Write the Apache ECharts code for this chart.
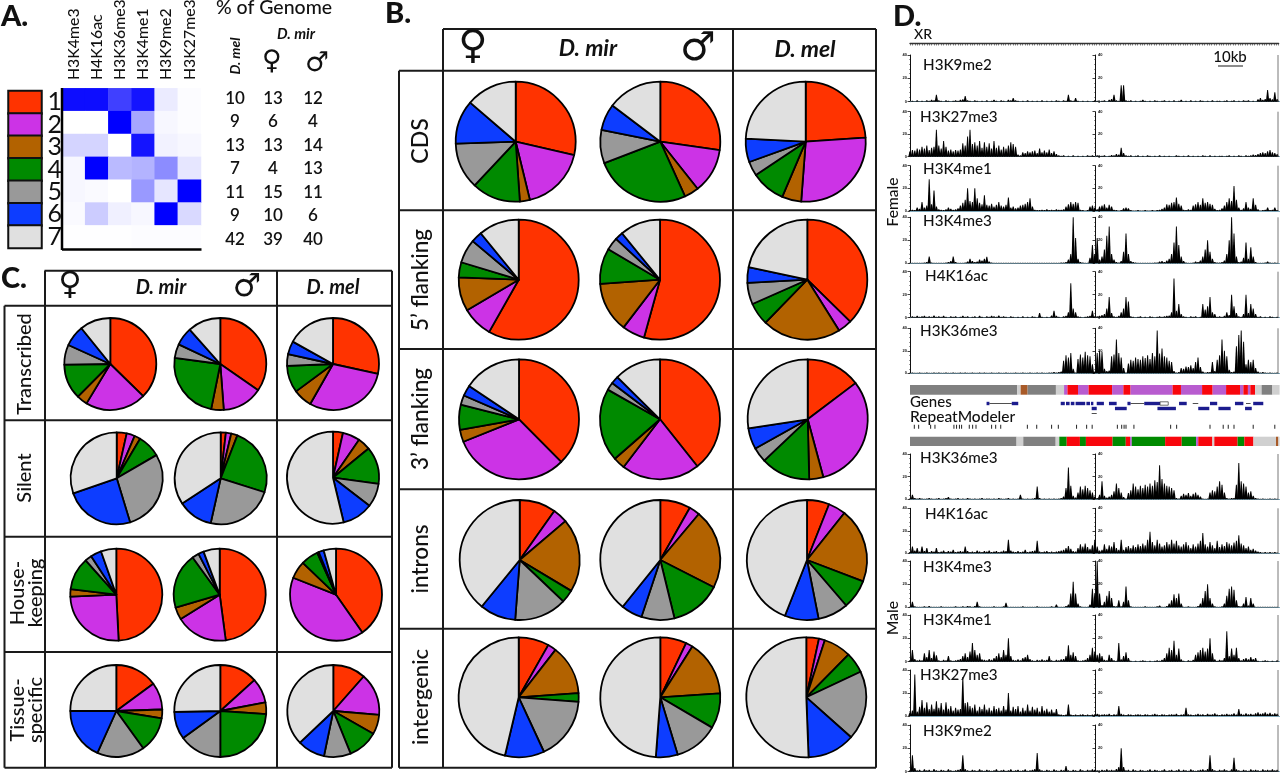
<!DOCTYPE html>
<html><head><meta charset="utf-8">
<style>html,body{margin:0;padding:0;background:#fff}#c{width:1280px;height:777px}</style>
<script src="https://cdn.jsdelivr.net/npm/echarts@6/dist/echarts.min.js"></script>
</head><body><div id="c"></div>
<script>
// ---------- Panel A ----------
const marks=['H3K4me3','H4K16ac','H3K36me3','H3K4me1','H3K9me2','H3K27me3'];
const stateLabels=['1','2','3','4','5','6','7'];
const stateColors=['#ff3300','#cc33e6','#b26200','#008a00','#999999','#0d3dff','#e0e0e0'];
const stripColors=['#f8060c','#b85ccf','#a85a28','#008a00','#808080','#0d3dff','#d0d0d0'];
const emis1=[95,95,75,92,8,1];
const emis2=[0,0,100,35,3,1];
const emis3=[17,17,0,92,5,3];
const emis4=[3,100,27,30,45,10];
const emis5=[3,2,0,40,10,100];
const emis6=[2,20,6,3,100,15];
const emis7=[0.5,0.5,0.5,1,1,1];
const genomeMel=[10,9,13,7,11,9,42];
const genomeMirF=[13,6,13,4,15,10,39];
const genomeMirM=[12,4,14,13,11,6,40];
// ---------- Panel B (percent of each state 1..7) ----------
const bCdsF=[28.6,17.6,2.7,13.1,12.5,11.8,13.7];
const bCdsM=[27.2,12.1,3.9,25.9,9.0,7.1,14.7];
const bCdsMel=[23.9,27.3,5.2,9.2,3.9,6.3,24.2];
const b5F=[58.2,8.3,9.1,4.1,6.4,3.0,10.9];
const b5M=[54.3,6.1,13.5,9.6,3.4,2.2,10.9];
const b5Mel=[37.4,3.8,21.2,6.1,5.8,4.2,21.7];
const b3F=[37.6,31.3,3.3,6.7,2.6,2.9,15.6];
const b3M=[39.4,21.1,3.2,19.7,2.1,2.1,12.6];
const b3Mel=[14.7,31.1,3.8,13.3,4.0,5.7,27.4];
const bIntF=[9.8,4.0,19.8,3.5,14.1,9.7,39.1];
const bIntM=[8.2,2.9,21.4,13.7,8.9,5.7,39.2];
const bIntMel=[6,4.7,20.1,7.9,8.2,9.1,44];
const bIgF=[8.2,2.3,13.4,2.3,16.9,10.6,46.3];
const bIgM=[7.1,1.9,15,9.5,11.9,5.9,48.9];
const bIgMel=[3.4,1.6,7.4,5.6,18.6,12.8,50.6];
// ---------- Panel C ----------
const cTrF=[37.3,21.3,3.8,12.3,7.0,7.4,10.8];
const cTrM=[34.7,14.2,4.4,24,4.9,6.4,11.6];
const cTrMel=[28.4,29.8,6.6,9.5,4.1,4.6,16.9];
const cSiF=[3.5,2.9,2.1,8.1,28.7,24.4,30.3];
const cSiM=[1.8,1.9,2.2,24,23.6,12.3,34.2];
const cSiMel=[3.5,6.1,4.5,13.1,8.3,10.8,53.8];
const cHkF=[49.2,25.1,2.6,11.5,2.4,3.8,5.4];
const cHkM=[47.9,18.2,4.4,19.5,2.4,1.9,5.7];
const cHkMel=[40.3,40.7,6.2,6.1,0.6,1.8,4.3];
const cTsF=[14.9,9.6,3.1,12.5,16.7,18.3,25];
const cTsM=[13.3,8.7,4.1,23.9,15,9.7,25.3];
const cTsMel=[11.5,14.9,6.9,10.6,9.4,9.7,37.1];
// ---------- Panel D: signal per 1 kb bin, percent of axis height ----------
const fK9=[1,2,1,3,1,2,1,3,2,4,3,15,3,2,1,3,2,1,2,3,2,4,5,12,3,2,1,3,2,1,2,1,3,1,2,4,2,1,3,2,1,4,3,8,3,2,1,2,1,3,1,2,1,2,1,3,1,2,1,2,1,3,2,1,3,2,15,3,2,8,2,1,2,1,2,1,1,3,2,1,2,3,1,4,6,15,3,2,35,35,3,2,3,1,2,1,2,4,2,1,2,1,3,2,1,2,3,1,2,1,3,1,2,4,1,2,1,3,1,2,1,3,2,1,2,1,3,1,2,2,1,2,3,1,2,3,1,2,1,3,2,3,1,2,1,5,8,4,6,25,8,5,20,6];
const fK27=[12,15,14,18,16,22,18,25,15,20,22,60,25,18,35,22,14,16,12,15,14,16,30,25,45,60,28,32,25,35,20,32,22,30,18,35,20,25,16,22,18,25,32,28,22,5,3,10,8,12,10,12,14,8,18,10,14,10,16,8,12,6,3,2,3,1,2,1,3,1,2,1,2,1,3,2,3,1,3,2,2,3,1,2,4,3,6,5,20,8,3,2,3,1,2,3,1,2,1,3,2,1,2,1,3,1,2,1,2,1,1,3,2,1,2,1,3,1,2,1,2,1,3,2,1,3,1,2,1,2,2,1,2,3,1,2,1,3,2,1,3,2,3,5,4,6,8,10,8,12,15,10,8,6];
const fK4me1=[2,3,2,8,5,20,8,12,70,15,45,10,4,3,2,4,8,5,3,4,6,12,18,25,50,22,20,50,28,18,15,35,14,12,16,10,14,20,12,10,14,30,8,10,6,8,12,14,16,20,28,10,3,2,2,3,2,4,2,3,2,4,3,3,4,10,15,20,16,20,18,3,2,1,2,10,12,8,4,10,12,15,8,14,10,3,2,1,2,6,8,6,2,1,1,2,1,1,2,1,1,2,1,2,3,5,8,15,14,18,20,30,16,12,3,2,4,3,12,15,20,14,28,18,20,16,14,5,2,3,6,12,20,28,22,55,25,8,3,6,20,8,5,28,14,4,1,2,3,8,2,3,8,2];
const fK4me3=[1,1,1,1,1,1,2,3,15,2,1,1,1,1,1,2,3,5,15,3,1,1,1,2,4,10,5,3,4,8,6,10,14,4,2,1,1,1,1,1,1,1,1,1,1,1,1,1,1,1,1,1,1,1,1,1,1,1,1,1,1,1,1,2,2,3,8,20,100,55,10,3,2,1,1,12,40,20,55,8,15,30,60,80,20,8,3,2,5,25,65,20,5,3,2,1,1,1,1,1,1,1,2,2,4,5,3,6,10,20,45,80,40,15,5,2,1,1,2,4,3,6,15,30,50,25,10,3,2,2,3,6,20,50,100,65,15,3,4,12,45,10,35,15,3,1,1,1,2,4,2,1,2,1];
const fK16=[1,3,2,4,2,3,4,2,3,2,5,2,3,2,4,2,1,3,2,3,1,2,4,2,3,1,2,3,1,4,2,1,3,2,4,3,2,5,2,3,2,1,3,2,1,2,1,3,1,2,1,3,2,1,10,2,1,2,1,5,15,4,2,1,3,4,12,75,20,12,3,2,1,2,3,4,15,3,3,4,6,8,20,45,10,3,2,4,12,20,45,35,3,2,1,2,3,1,2,1,3,2,1,2,3,2,3,4,5,12,85,15,30,8,3,2,1,3,2,3,1,2,30,18,25,45,12,8,2,3,2,4,12,6,50,25,10,3,2,8,50,10,30,20,8,2,3,1,2,1,3,2,1,2];
const fK36=[1,2,1,1,2,1,1,2,1,1,2,1,2,1,1,2,1,1,2,1,1,2,1,2,1,1,2,1,1,2,1,2,1,1,2,1,1,2,1,1,2,1,1,1,2,1,1,2,1,1,2,1,1,2,1,2,1,1,2,2,3,2,3,4,28,40,35,45,10,2,32,42,35,48,40,38,20,4,45,50,48,10,5,6,38,42,75,45,35,12,2,22,30,28,35,32,30,38,34,40,32,45,38,95,44,55,38,35,28,25,5,2,3,12,10,15,14,18,12,25,35,14,4,2,3,3,25,5,30,40,75,50,38,8,3,4,60,85,95,70,20,30,25,30,12,4,2,3,2,1,2,1,1,2];
const mK36=[2,10,3,2,3,2,1,2,3,2,1,2,3,1,2,3,5,2,1,2,3,1,2,1,3,2,1,2,1,2,3,1,2,2,1,2,1,3,2,1,2,3,1,2,1,2,10,2,1,2,1,2,3,28,3,1,2,1,2,1,2,1,2,3,6,25,70,30,8,4,15,28,22,30,25,20,15,6,3,10,40,8,4,6,10,18,35,25,15,5,2,14,20,35,28,22,30,25,32,28,35,30,42,38,75,45,35,30,28,25,20,3,2,8,12,10,14,8,12,15,10,6,2,1,2,15,20,18,28,40,32,15,3,2,3,3,32,80,40,35,28,15,18,8,3,2,1,2,1,1,2,1,2,1];
const mK16=[3,15,6,12,4,15,5,12,3,5,4,12,3,4,6,3,5,4,8,3,4,5,4,15,5,3,4,3,6,4,3,5,4,6,3,4,5,3,4,6,5,30,6,4,3,5,3,4,8,3,4,5,6,28,4,3,4,5,3,4,3,4,5,6,8,12,16,10,5,4,12,20,15,22,14,10,18,30,15,6,8,20,10,18,15,25,12,8,30,8,14,16,12,18,14,20,16,22,18,30,48,25,18,30,22,15,18,25,20,30,22,28,18,15,20,25,18,12,20,15,22,28,45,20,15,25,18,12,28,14,20,16,25,22,18,24,28,40,22,18,12,15,8,10,6,4,3,2,3,2,3,2,3,2];
const mK4me3=[1,12,2,1,1,1,2,1,3,1,1,1,1,2,1,1,1,1,1,2,1,1,2,1,3,2,1,3,12,2,1,1,1,1,1,2,1,1,1,2,10,1,1,1,1,1,1,2,1,1,1,1,1,2,1,1,1,1,1,2,1,6,1,1,1,3,6,30,55,30,8,2,1,1,1,6,40,30,100,30,5,12,25,35,20,3,2,15,2,12,45,15,2,1,1,1,1,1,2,1,1,1,1,2,4,1,1,3,8,15,28,20,30,8,1,1,2,1,1,1,3,8,20,35,50,20,8,2,1,1,2,8,25,40,45,38,15,3,2,8,22,4,20,8,1,1,1,1,1,1,1,1,1,1];
const mK4me1=[3,25,6,3,4,3,18,10,25,8,22,14,3,2,4,3,12,3,2,3,4,6,12,18,10,22,40,25,15,18,5,4,3,6,4,8,12,18,10,25,15,50,12,4,3,5,3,8,10,15,6,3,2,4,3,5,3,4,12,3,2,4,3,5,6,12,35,15,20,12,3,2,3,4,8,15,30,22,15,18,12,4,3,15,8,3,2,40,5,12,20,8,2,1,2,1,2,3,2,1,2,1,2,3,2,4,8,18,30,25,45,15,28,5,2,1,3,2,4,15,20,25,30,22,28,50,18,5,2,4,3,8,65,12,28,15,30,8,3,6,8,5,10,6,8,2,1,2,3,2,1,2,1,3];
const mK27=[8,12,90,10,20,35,18,30,15,25,16,32,18,28,14,30,16,22,12,18,14,15,85,28,30,22,18,25,12,20,15,25,14,18,12,22,15,18,12,22,14,50,12,20,15,22,10,18,12,25,12,20,14,18,10,22,12,16,10,14,8,15,4,3,2,3,25,3,2,3,2,3,4,2,3,2,3,4,5,2,3,4,3,5,2,4,3,22,5,3,2,4,3,2,3,4,3,2,4,3,2,3,5,3,2,4,3,2,3,4,3,5,2,3,4,18,4,3,2,3,5,3,4,2,5,3,4,6,3,2,4,3,5,3,4,6,3,15,5,3,6,4,5,3,6,8,5,6,8,5,7,4,6,5];
const mK9=[3,35,8,3,4,2,5,3,4,2,6,3,2,4,3,2,5,3,2,3,4,6,35,6,3,2,4,3,2,5,3,2,4,3,2,3,5,2,3,4,2,3,5,2,3,4,2,3,5,2,3,4,6,40,5,3,2,4,3,2,5,3,2,4,3,12,3,2,4,3,2,5,3,2,4,3,5,4,3,2,4,3,5,3,4,3,6,10,50,10,3,4,2,5,3,2,4,3,2,3,5,2,4,3,2,3,5,2,3,4,2,3,5,2,4,3,2,5,3,2,3,4,5,3,6,35,6,3,2,4,3,5,3,2,5,30,5,3,2,4,3,2,5,3,4,3,2,5,3,4,3,5,3,4];
// chromatin state segments: [start kb, end kb, state index]
const segF=[[0,44.7,4],[44.7,46.1,6],[46.1,49,2],[49,60.8,4],[60.8,64.2,6],[64.2,65.6,1],[65.6,70,0],[70,74.4,1],[74.4,84.2,0],[84.2,88.9,1],[88.9,91.9,0],[91.9,109.4,1],[109.4,112.9,0],[112.9,121.7,1],[121.7,126.1,0],[126.1,131.7,1],[131.7,137.5,0],[137.5,138.9,1],[138.9,140.8,0],[140.8,141.8,1],[141.8,143.8,0],[143.8,146.5,6],[146.5,151,4],[151,154,6]];
const segM=[[0,44.4,4],[44.4,47.2,6],[47.2,60.7,4],[60.7,62.2,6],[62.2,65.3,3],[65.3,70.8,0],[70.8,73.3,3],[73.3,84.4,0],[84.4,89.9,3],[89.9,91.7,0],[91.7,92.4,1],[92.4,106.3,3],[106.3,113.2,0],[113.2,119.2,3],[119.2,120.1,1],[120.1,126,0],[126,126.8,6],[126.8,136.5,0],[136.5,139.3,3],[139.3,143.1,0],[143.1,152.5,6],[152.5,153.5,2],[153.5,154,6]];
// genes: [start kb, end kb, row, kind] kind 0 exons, 1 intron, 2 UTR
const geneParts=[[31.9,33.1,0,0],[33.1,42.4,0,1],[42.4,45.1,0,0],[62.8,64.5,0,0],[65,66.5,0,0],[67,68.5,0,0],[69,73,0,0],[73.5,75,0,0],[75.4,76.4,0,0],[77.8,80.8,0,0],[82.9,86.1,0,0],[90.6,91.9,0,0],[91.9,97.6,0,1],[97.6,104.2,0,0],[104.2,107.6,0,2],[112.1,115.3,0,0],[117.8,120.1,0,1],[125,128,0,0],[135.4,138.9,0,0],[140,141.9,0,1],[143,147.2,0,0],[75.7,77.8,1,0],[85.4,90.3,1,0],[103.1,110.8,1,0],[120.1,124.7,1,0],[128.5,133.6,1,0],[139.6,142.4,1,0],[75.7,77.8,2,1]];
const repeats=[1.8,3.6,8.6,10.4,18.3,19.4,20.6,21.5,24.7,26.1,27.5,34,35.7,37.8,48.9,52.8,59,61.8,69.4,73.6,75.9,86.4,88.2,89.2,90,93.3,108.6,111.1,125,130.5,132.6,135,143,152];

const emissions=[emis1,emis2,emis3,emis4,emis5,emis6,emis7];
const chart=echarts.init(document.getElementById('c'),null,{renderer:'canvas'});
const FONT='Lato, "Open Sans", sans-serif';
const INK='#111';
const grids=[],xAxes=[],yAxes=[],series=[],gfx=[];

function T(x,y,text,o={}){
  const wt=o.bold?'bold':(o.w||500);
  gfx.push({type:'text',x,y,rotation:(o.rot||0)*Math.PI/180,z:50,silent:true,
    style:{x:0,y:0,text,fill:INK,font:`${o.italic?'italic ':''}${wt} ${o.size||16}px ${o.font||FONT}`,
      textAlign:o.align||'center',textVerticalAlign:'middle'}});
}
function L(x1,y1,x2,y2,w,c){
  gfx.push({type:'line',z:40,silent:true,shape:{x1,y1,x2,y2},style:{stroke:c||'#1a1a1a',lineWidth:w||2}});
}
// ---- A: heatmap
grids.push({left:62,top:88.3,width:139,height:160});
xAxes.push({type:'category',gridIndex:0,data:marks,position:'bottom',axisLabel:{show:false},axisTick:{show:false},axisLine:{show:false}});
yAxes.push({type:'category',gridIndex:0,data:stateLabels,inverse:true,axisLabel:{show:false},axisTick:{show:false},axisLine:{show:false}});
xAxes.push({type:'category',gridIndex:0,data:marks,position:'top',axisLine:{show:false},axisTick:{show:false},
  axisLabel:{show:false}});
const heat=[];emissions.forEach((r,i)=>r.forEach((v,j)=>heat.push([j,i,v])));
series.push({type:'heatmap',xAxisIndex:0,yAxisIndex:0,data:heat,animation:false,silent:true});
marks.forEach((m,j)=>T(62+139*(j+0.5)/marks.length,80,m,{size:15.8,rot:90,align:'left'}));
L(62,88,62,250,2.5,'#000');L(62,249.5,201.5,249.5,2.5,'#000');
// ---- A: state key
grids.push({left:8.5,top:91,width:33,height:157});
xAxes.push({type:'category',gridIndex:1,data:['k'],show:false});
yAxes.push({type:'category',gridIndex:1,data:stateLabels,inverse:true,position:'right',axisLine:{show:false},axisTick:{show:false},
  axisLabel:{fontSize:25,color:INK,fontFamily:FONT,margin:6,interval:0}});
series.push({type:'heatmap',xAxisIndex:2,yAxisIndex:1,animation:false,silent:true,
  data:stateLabels.map((s,i)=>({value:[0,i,i],itemStyle:{color:stateColors[i],borderColor:'#111',borderWidth:2}}))});

// ---- Pies
function pie(values,x,y,r){
  series.push({type:'pie',center:[x,y],radius:[0,r],startAngle:90,clockwise:true,animation:false,silent:true,
    label:{show:false},labelLine:{show:false},avoidLabelOverlap:false,
    itemStyle:{borderColor:'#000',borderWidth:1.8},
    data:values.map((v,i)=>({value:v,name:stateLabels[i],itemStyle:{color:stateColors[i]}}))});
}
[[bCdsF,515.7,141.7],[bCdsM,660.3,141.7],[bCdsMel,805.7,141.7],
 [b5F,518.7,279.7],[b5M,660,279.7],[b5Mel,807.3,279.7],
 [b3F,519,419.3],[b3M,660,419.3],[b3Mel,807.7,419.3],
 [bIntF,519.7,560],[bIntM,660.3,560],[bIntMel,807,560],
 [bIgF,518.7,697.3],[bIgM,660.3,697.3],[bIgMel,806.3,697.3]].forEach(p=>pie(p[0],p[1],p[2],60));
[[cTrF,110.3,364],[cTrM,220.3,364],[cTrMel,333,364],
 [cSiF,116.7,478.3],[cSiM,220.7,478.3],[cSiMel,333,477.7],
 [cHkF,116.3,594.7],[cHkM,219.7,594.7],[cHkMel,336,594.7],
 [cTsF,116.3,711],[cTsM,220.3,711],[cTsMel,333.3,711]].forEach(p=>pie(p[0],p[1],p[2],46));

// ---- D tracks
const D_LEFT=910,D_W=369.6,KB=154;
const tracks=[['H3K9me2',fK9,55,101.7,923,65],['H3K27me3',fK27,111.7,156.7,920,117],['H3K4me1',fK4me1,165.7,211,923,169],
 ['H3K4me3',fK4me3,217.3,263.3,923,221],['H4K16ac',fK16,271.7,317.7,925,276],['H3K36me3',fK36,328.3,373.3,920,331],
 ['H3K36me3',mK36,454,499.3,920,458],['H4K16ac',mK16,508.3,553.3,925,514],['H3K4me3',mK4me3,561,607.3,923,567],
 ['H3K4me1',mK4me1,615,661.7,923,620],['H3K27me3',mK27,670,716,920,675],['H3K9me2',mK9,725,771.7,923,731]];
function kbAxis(gi,extra){return Object.assign({type:'value',gridIndex:gi,min:0,max:KB,axisLabel:{show:false},axisTick:{show:false},splitLine:{show:false},axisLine:{show:false}},extra||{});}
function spike(p,api){
  const x=api.value(0),h=api.value(1);
  const a=api.coord([x,0]),b=api.coord([x,h]);
  return {type:'polygon',shape:{points:[[a[0]-1.7,a[1]],[b[0]-0.45,b[1]],[b[0]+0.45,b[1]],[a[0]+1.7,a[1]]]},style:{fill:'#000'}};
}
tracks.forEach(t=>{
  const gi=grids.length;
  grids.push({left:D_LEFT,top:t[2],width:D_W,height:t[3]-t[2]});
  const xi=xAxes.length;
  xAxes.push(kbAxis(gi,{axisLine:{show:true,onZero:false,lineStyle:{color:'#7fa8bb',width:1}}}));
  const yi=yAxes.length;
  const yBase={type:'value',gridIndex:gi,min:0,max:100,interval:50,splitLine:{show:false},
    axisLine:{show:true,lineStyle:{color:'#111',width:1}},axisTick:{show:true,length:2.5,lineStyle:{color:'#111',width:0.8}},
    minorTick:{show:true,length:1,splitNumber:5,lineStyle:{color:'#333',width:0.5}}};
  yAxes.push(Object.assign({},yBase,{position:'left',axisLabel:{fontSize:4,fontWeight:'bold',color:'#111',margin:3,formatter:v=>String(v*0.4)}}));
  yAxes.push(Object.assign({},yBase,{position:'left',offset:-185,axisLabel:{fontSize:4,fontWeight:'bold',color:'#111',inside:true,margin:3,formatter:v=>String(v*0.4)}}));
  series.push({type:'custom',xAxisIndex:xi,yAxisIndex:yi,data:t[1].map((h,i)=>[i,h]),animation:false,silent:true,
    encode:{x:0,y:1},clip:false,renderItem:spike,z:3});
  T(t[4],t[5],t[0],{size:15.2,align:'left'});
  L(1278,t[2],1278,t[3],0.8,'#555');
});

// ruler
(function(){
  const gi=grids.length;grids.push({left:D_LEFT,top:43,width:D_W-1,height:0.5});
  const xi=xAxes.length;
  xAxes.push({type:'value',gridIndex:gi,min:0,max:KB,interval:1,position:'bottom',axisLabel:{show:false},splitLine:{show:false},
    axisLine:{show:true,onZero:false,lineStyle:{color:'#333',width:1.4}},axisTick:{show:true,length:2,lineStyle:{color:'#333',width:0.6}}});
  const yi=yAxes.length;yAxes.push({type:'value',gridIndex:gi,show:false,min:0,max:1});
  series.push({type:'line',xAxisIndex:xi,yAxisIndex:yi,data:[],silent:true});
})();

// custom strips
function laneGrid(top,h,yMax){
  const gi=grids.length;grids.push({left:D_LEFT,top,width:D_W,height:h});
  const xi=xAxes.length;xAxes.push(kbAxis(gi));
  const yi=yAxes.length;yAxes.push({type:'value',gridIndex:gi,show:false,min:0,max:yMax,inverse:true});
  return [xi,yi];
}
function segSeries(data,top,h){
  const [xi,yi]=laneGrid(top,h,1);
  series.push({type:'custom',xAxisIndex:xi,yAxisIndex:yi,data,silent:true,animation:false,encode:{x:[0,1]},clip:false,
    renderItem(p,api){
      const a=api.coord([api.value(0),0]),b=api.coord([api.value(1),1]);
      return {type:'rect',shape:{x:a[0],y:a[1],width:b[0]-a[0],height:b[1]-a[1]},style:{fill:stripColors[api.value(2)]}};
    }});
}
segSeries(segF,385,9.7);
segSeries(segM,436.7,9.3);
(function(){
  const [xi,yi]=laneGrid(401,15,3);
  series.push({type:'custom',xAxisIndex:xi,yAxisIndex:yi,data:geneParts,silent:true,animation:false,encode:{x:[0,1]},clip:false,
    renderItem(p,api){
      const row=api.value(2),kind=api.value(3);
      const a=api.coord([api.value(0),row]),b=api.coord([api.value(1),row+1]);
      const hh=b[1]-a[1],w=b[0]-a[0];
      if(kind===1) return {type:'rect',shape:{x:a[0],y:a[1]+hh/2-0.4,width:w,height:0.8},style:{fill:'#222'}};
      if(kind===2) return {type:'rect',shape:{x:a[0],y:a[1]+0.8,width:w,height:hh-1.6},style:{fill:'#fff',stroke:'#333',lineWidth:0.7}};
      return {type:'rect',shape:{x:a[0],y:a[1]+0.8,width:w,height:hh-1.6},style:{fill:'#1c1c8e'}};
    }});
})();
(function(){
  const [xi,yi]=laneGrid(424.7,4,1);
  series.push({type:'custom',xAxisIndex:xi,yAxisIndex:yi,data:repeats.map(v=>[v]),silent:true,animation:false,encode:{x:0},clip:false,
    renderItem(p,api){
      const a=api.coord([api.value(0),0]),b=api.coord([api.value(0),1]);
      return {type:'rect',shape:{x:a[0]-0.5,y:a[1],width:1,height:b[1]-a[1]},style:{fill:'#222'}};
    }});
})();

// ---------- text & lines
const P={size:29,w:900,align:'left'};
T(1,17,'A.',P);
T(385,14,'B.',P);
T(1,279,'C.',P);
T(893,17,'D.',P);
// A table
T(274,8,'% of Genome',{size:19.5});
T(296,34,'D. mir',{size:15,italic:true,bold:true});
T(235,56,'D. mel',{size:14,italic:true,bold:true,rot:90});
T(272,62,'♀',{size:27,font:'"DejaVu Sans"',bold:true});
T(317,64,'♂',{size:27,font:'"DejaVu Sans"',bold:true});
const rowY=[99,122,146,169,193,216,240];
genomeMel.forEach((v,i)=>{T(235,rowY[i],String(v),{size:17,w:600});T(273,rowY[i],String(genomeMirF[i]),{size:17,w:600});T(313,rowY[i],String(genomeMirM[i]),{size:17,w:600});});
// B table
L(443,29,876,29);L(399,70.7,876,70.7);L(399,210.3,876,210.3);L(399,349,876,349);L(399,489.3,876,489.3);L(399,628.7,876,628.7);L(399,767.7,876,767.7);
L(399,70.7,399,767.7);L(443,29,443,767.7);L(733,29,733,767.7);L(876,29,876,767.7);
T(473,48,'♀',{size:40,font:'"DejaVu Sans"',bold:true});
T(588,49,'D. mir',{size:23,italic:true,bold:true});
T(698,50,'♂',{size:40,font:'"DejaVu Sans"',bold:true});
T(805,50,'D. mel',{size:23,italic:true,bold:true});
T(421,141,'CDS',{size:23,rot:90});
T(421,280,'5’ flanking',{size:22.5,rot:90});
T(421,419,'3’ flanking',{size:22.5,rot:90});
T(421,559,'introns',{size:22.5,rot:90});
T(421,697,'intergenic',{size:22,rot:90});
// C table
L(44.5,270.7,392,270.7);L(4.5,305.7,392,305.7);L(4.5,420.3,392,420.3);L(4.5,536.7,392,536.7);L(4.5,652,392,652);L(4.5,767.7,392,767.7);
L(4.5,305.7,4.5,767.7);L(45,270.7,45,767.7);L(277,270.7,277,767.7);L(392,270.7,392,767.7);
T(70,286,'♀',{size:32,font:'"DejaVu Sans"',bold:true});
T(161,288,'D. mir',{size:20,italic:true,bold:true});
T(247,288,'♂',{size:32,font:'"DejaVu Sans"',bold:true});
T(333,288,'D. mel',{size:20,italic:true,bold:true});
T(25,364,'Transcribed',{size:20,rot:90});
T(25,478,'Silent',{size:20,rot:90});
T(18,593,'House-',{size:20,rot:90});
T(36,593,'keeping',{size:20,rot:90});
T(18,710,'Tissue-',{size:20,rot:90});
T(36,710,'specific',{size:20,rot:90});
// D text
T(914,34,'XR',{size:14,align:'left'});
T(1230,57,'10kb',{size:15,align:'center'});
L(1218,66,1243,66,1.5,'#666');
T(910,402,'Genes',{size:15,align:'left'});
T(910,417,'RepeatModeler',{size:15.5,align:'left'});
T(893,202,'Female',{size:15.5,rot:90});
T(893,618,'Male',{size:15.5,rot:90});

chart.setOption({
  animation:false,backgroundColor:'#fff',
  visualMap:[{show:false,seriesIndex:0,dimension:2,min:0,max:100,inRange:{color:['#ffffff','#0000ff']}}],
  grid:grids,xAxis:xAxes,yAxis:yAxes,series,graphic:{elements:gfx}
});
</script></body></html>
